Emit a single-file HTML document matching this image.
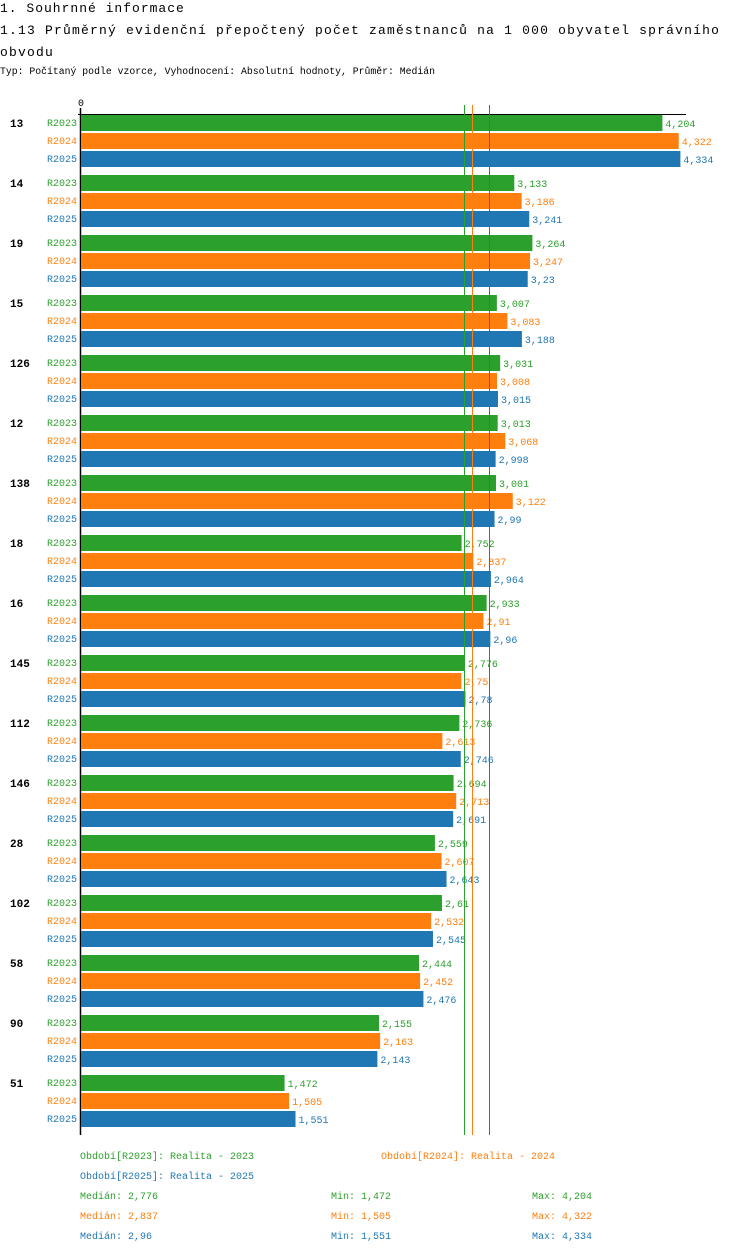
<!DOCTYPE html>
<html><head><meta charset="utf-8">
<style>
body{margin:0;width:750px;height:1254px;background:#fff;position:relative;overflow:hidden;font-family:"Liberation Mono",monospace}
.t{position:absolute;white-space:nowrap}
.s{font-size:10px}
</style></head><body>
<div class="t" style="left:0;top:1px;font-size:13px;letter-spacing:1px">1. Souhrnné informace</div>
<div class="t" style="left:0;top:20px;font-size:13px;letter-spacing:1.2px;line-height:22px">1.13 Průměrný evidenční přepočtený počet zaměstnanců na 1 000 obyvatel správního<br>obvodu</div>
<div class="t" style="left:0;top:66px;font-size:9.8px">Typ: Počítaný podle vzorce, Vyhodnocení: Absolutní hodnoty, Průměr: Medián</div>
<svg id="c" width="750" height="1254" style="position:absolute;left:0;top:0" xmlns="http://www.w3.org/2000/svg"></svg>
<div id="leg"></div>
<script>
const categories=["13","14","19","15","126","12","138","18","16","145","112","146","28","102","58","90","51"];
const series=["R2023","R2024","R2025"];
const v2023=[4.204,3.133,3.264,3.007,3.031,3.013,3.001,2.752,2.933,2.776,2.736,2.694,2.559,2.61,2.444,2.155,1.472];
const v2024=[4.322,3.186,3.247,3.083,3.008,3.068,3.122,2.837,2.91,2.75,2.613,2.713,2.607,2.532,2.452,2.163,1.505];
const v2025=[4.334,3.241,3.23,3.188,3.015,2.998,2.99,2.964,2.96,2.78,2.746,2.691,2.643,2.545,2.476,2.143,1.551];
const medians=[2.776,2.837,2.96];
const mins=[1.472,1.505,1.551];
const maxs=[4.204,4.322,4.334];
const colors=["#2ca02c","#ff7f0e","#1f77b4"];
const vals=[v2023,v2024,v2025];
const NS="http://www.w3.org/2000/svg";
const svg=document.getElementById('c');
const x0=81, sc=138.3;
const X=v=>x0+v*sc;
const Y=(g,s)=>115+g*60+s*18;
const fmt=v=>String(v).replace('.',',');
function mk(tag,at){const e=document.createElementNS(NS,tag);for(const k in at)e.setAttribute(k,at[k]);svg.appendChild(e);return e;}
function tx(x,y,str,fill,anchor,extra){const e=mk('text',{x:x,y:y,fill:fill,'font-size':'10','font-family':'Liberation Mono, monospace','text-anchor':anchor||'start'});if(extra)e.setAttribute('font-weight','bold');e.textContent=str;return e;}
let e;
e=mk('line',{x1:78,y1:114.5,x2:686,y2:114.5,stroke:'#000','stroke-width':1});


e=mk('line',{x1:80.5,y1:108,x2:80.5,y2:1135,stroke:'#000','stroke-width':1.5});


e=tx(78,106,'0','#000','start');


categories.forEach((c,g)=>{
  e=tx(10,Y(g,0)+12,c,'#000','start',true);
  e.setAttribute('font-size','11');
  
  
  series.forEach((s,i)=>{
    const v=vals[i][g];
    e=tx(77,Y(g,i)+11,s,colors[i],'end');
    
    
    e=mk('rect',{x:x0,y:Y(g,i),width:X(v)-x0,height:16,fill:colors[i]});
    
    
    e=tx(X(v)+3,Y(g,i)+12,fmt(v),colors[i],'start');
    
    
  });
});
medians.forEach((m,i)=>{
  e=mk('line',{x1:Math.round(X(m))-0.5,y1:105,x2:Math.round(X(m))-0.5,y2:1135,stroke:colors[i],'stroke-width':1});
  
  
});
const leg=document.getElementById('leg');
function lt(x,y,str,col,name){const d=document.createElement('div');d.className='t s';d.style.left=x+'px';d.style.top=y+'px';d.style.color=col;d.textContent=str;


leg.appendChild(d);}
lt(80,1152,'Období[R2023]: Realita - 2023',colors[0],'legend-entry-r2023');
lt(381,1152,'Období[R2024]: Realita - 2024',colors[1],'legend-entry-r2024');
lt(80,1172,'Období[R2025]: Realita - 2025',colors[2],'legend-entry-r2025');
series.forEach((s,i)=>{
  lt(80,1192+i*20,'Medián: '+fmt(medians[i]),colors[i],'median-stat');
  lt(331,1192+i*20,'Min: '+fmt(mins[i]),colors[i],'min-stat');
  lt(532,1192+i*20,'Max: '+fmt(maxs[i]),colors[i],'max-stat');
});
</script>
</body></html>
